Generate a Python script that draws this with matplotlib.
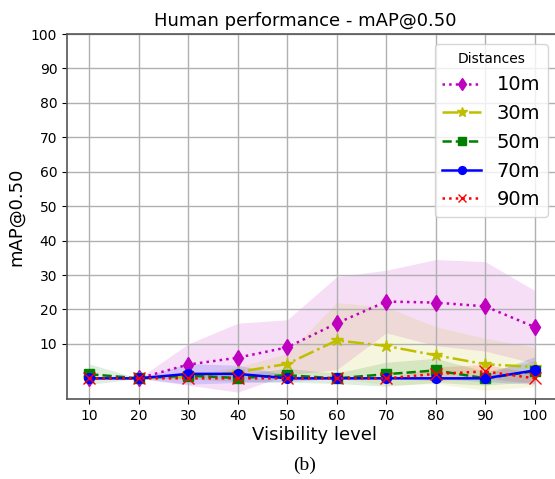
import numpy as np
import matplotlib
matplotlib.use("Agg")
import matplotlib.pyplot as plt

visibility = [10, 20, 30, 40, 50, 60, 70, 80, 90, 100]
distances = ["10m", "30m", "50m", "70m", "90m"]

# mean mAP@0.50 per distance
map_10m = [0.0, 0.0, 4.0, 6.0, 9.0, 16.0, 22.3, 22.0, 20.9, 14.9]
map_30m = [0.0, 0.0, 0.5, 1.8, 4.2, 11.0, 9.4, 6.7, 4.1, 3.3]
map_50m = [1.2, 0.0, 0.8, 0.1, 0.9, 0.0, 1.2, 2.3, 0.0, 2.1]
map_70m = [0.0, 0.0, 1.3, 1.3, 0.0, 0.0, 0.0, 0.0, 0.0, 2.3]
map_90m = [0.0, 0.0, 0.0, 0.0, 0.0, 0.0, 0.0, 1.3, 2.0, 0.0]

# std (shaded band)
std_10m = [0.0, 0.0, 6.0, 10.0, 8.0, 13.5, 9.1, 12.5, 13.0, 10.6]
std_30m = [0.0, 0.0, 0.5, 1.5, 3.0, 11.0, 11.3, 8.3, 7.5, 5.7]
std_50m = [3.0, 0.0, 1.0, 1.0, 2.0, 1.5, 3.5, 3.5, 2.0, 3.0]
std_70m = [0.0, 0.0, 3.0, 2.5, 1.0, 0.0, 0.0, 0.0, 1.0, 4.0]
std_90m = [0.0, 0.0, 0.0, 0.0, 0.0, 0.0, 0.0, 2.0, 2.0, 1.5]

means = [map_10m, map_30m, map_50m, map_70m, map_90m]
stds = [std_10m, std_30m, std_50m, std_70m, std_90m]
colors = ["m", "y", "g", "b", "r"]
markers = ["d", "*", "s", "o", "x"]
styles = [":", "-.", "--", "-", ":"]
msizes = [8, 9, 7, 7, 8]

fig = plt.figure(figsize=(5.55, 4.79), dpi=100)
# axes run past the right edge of the image (the reference is cropped there)
ax = fig.add_axes([67/555, 80/479, 495/555, 365/479])

x = np.array(visibility)
for i, d in enumerate(distances):
	m = np.array(means[i])
	s = np.array(stds[i])
	ax.fill_between(x, m - s, m + s, color=colors[i], alpha=0.13, linewidth=0)
	ax.plot(x, m, color=colors[i], marker=markers[i], linestyle=styles[i],
		markersize=msizes[i], linewidth=1.8, label=d)

ax.set_xlim(5.5, 105.5)
ax.set_ylim(-6, 100)
ax.set_xticks(visibility)
ax.set_yticks(range(10, 101, 10))
ax.tick_params(axis='both', which='major', labelsize=10)
ax.grid(True, color="#b0b0b0", linewidth=1)
ax.spines["right"].set_visible(False)
for sp in ["left", "bottom", "top"]:
	ax.spines[sp].set_color("#555555")
	ax.spines[sp].set_linewidth(1.2)

ax.set_title("Human performance - mAP@0.50", fontsize=13, x=0.481)
ax.set_xlabel("Visibility level", fontsize=13, labelpad=2)
ax.set_ylabel("mAP@0.50", fontsize=13)

leg = ax.legend(title="Distances", fontsize=14, title_fontsize=10,
	loc="upper right", bbox_to_anchor=(0.972, 0.973), borderaxespad=0,
	markerscale=0.8)

fig.text(305/555, 1 - 465/479, "(b)", ha="center", va="center",
	fontsize=14, family="Liberation Serif")

plt.savefig("out.png", dpi=100)
